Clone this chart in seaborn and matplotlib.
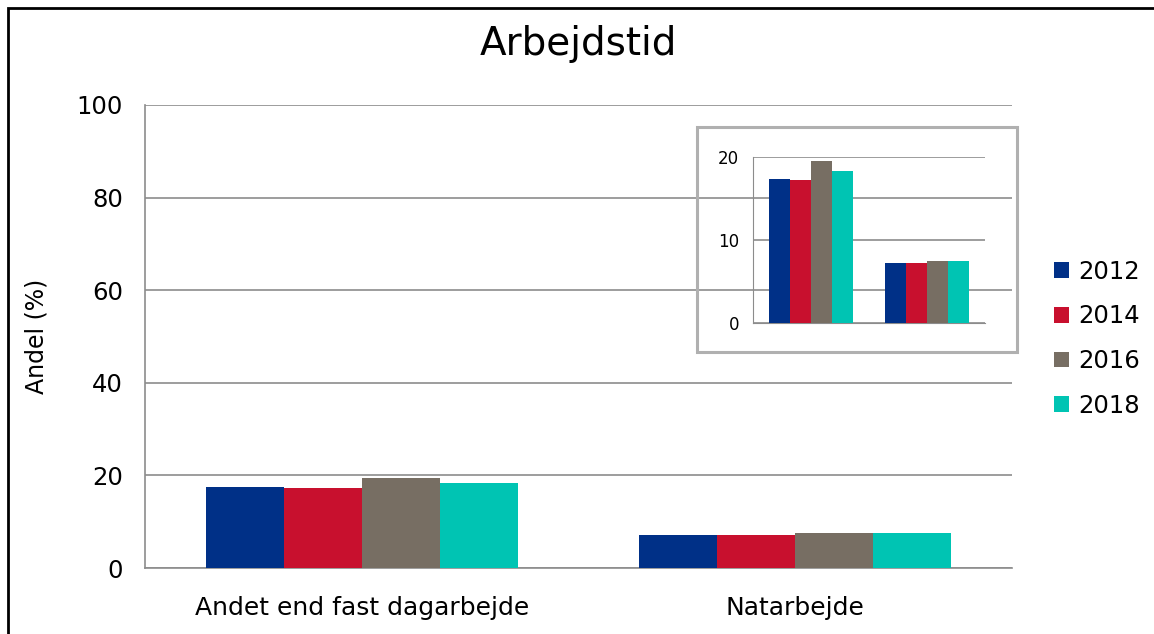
import pandas as pd
import numpy as np
import matplotlib
matplotlib.use("Agg")
import matplotlib.pyplot as plt
import seaborn as sns
from matplotlib.patches import Rectangle

# data
kategorier = ["Andet end fast dagarbejde", "Natarbejde"]
aar = ["2012", "2014", "2016", "2018"]
andel_2012 = [17.4, 7.2]
andel_2014 = [17.2, 7.2]
andel_2016 = [19.5, 7.5]
andel_2018 = [18.3, 7.5]
farver = ["#003087", "#C8102E", "#776E63", "#00C4B3"]

df = pd.DataFrame({
    "Kategori": kategorier * 4,
    "Aar": [a for a in aar for _ in kategorier],
    "Andel": andel_2012 + andel_2014 + andel_2016 + andel_2018,
})

sns.set_style("white")
plt.rcParams['font.family'] = ['DejaVu Sans']
plt.rcParams['text.color'] = 'black'
plt.rcParams['axes.labelcolor'] = 'black'
plt.rcParams['xtick.color'] = 'black'
plt.rcParams['ytick.color'] = 'black'

fig = plt.figure(figsize=(11.54, 6.34), dpi=100)
W, H = 1154, 634

# main axes
ax = fig.add_axes([145 / W, 1 - 568 / H, (1012 - 145) / W, (568 - 105) / H])
sns.barplot(data=df, x="Kategori", y="Andel", hue="Aar", palette=farver,
            width=0.72, gap=0, saturation=1, linewidth=0, ax=ax, zorder=3)
ax.set_ylim(0, 100)
ax.set_yticks(range(0, 101, 20))
ax.yaxis.grid(True, color="#8c8c8c", linewidth=1.2, zorder=0)
ax.set_axisbelow(True)
for s in ["top", "right"]:
    ax.spines[s].set_visible(False)
ax.spines["left"].set_color("#8c8c8c")
ax.spines["bottom"].set_color("#8c8c8c")
ax.spines["left"].set_linewidth(1.2)
ax.spines["bottom"].set_linewidth(1.2)
ax.tick_params(axis="y", length=7, color="#8c8c8c", labelcolor="black",
               labelsize=17.5, pad=9)
ax.tick_params(axis="x", length=0, labelcolor="black", labelsize=18, pad=20)
ax.set_xlabel("")
ax.set_ylabel("Andel (%)", fontsize=17, labelpad=20)
ax.set_title("Arbejdstid", fontsize=28, pad=36)

leg = ax.legend(loc="center left", bbox_to_anchor=(1.023, 0.495), frameon=False,
                fontsize=17.5, handlelength=0.62, handleheight=0.62,
                handletextpad=0.4, labelspacing=0.85)

# inset
frame = Rectangle((697 / W, 1 - 352 / H), (1017 - 697) / W, (352 - 127) / H,
                  transform=fig.transFigure, fill=False, edgecolor="#b0b0b0",
                  linewidth=2.2, zorder=5)
fig.patches.append(frame)

ins = fig.add_axes([753 / W, 1 - 323 / H, (985 - 753) / W, (323 - 157) / H])
ins.patch.set_alpha(0)
sns.barplot(data=df, x="Kategori", y="Andel", hue="Aar", palette=farver,
            width=0.72, gap=0, saturation=1, linewidth=0, ax=ins,
            legend=False, zorder=3)
ins.set_ylim(0, 20)
ins.set_yticks([0, 10, 20])
ins.yaxis.grid(True, color="#8c8c8c", linewidth=1.2, zorder=0)
ins.set_axisbelow(True)
for s in ["top", "right"]:
    ins.spines[s].set_visible(False)
ins.spines["left"].set_color("#8c8c8c")
ins.spines["bottom"].set_color("#8c8c8c")
ins.tick_params(axis="y", length=5, color="#8c8c8c", labelcolor="black",
                labelsize=12, pad=5)
ins.set_xticks([])
ins.set_xlabel("")
ins.set_ylabel("")

# outer border (only top and left visible)
border = Rectangle((8 / W, -0.1), 1.2, 1 - 8 / H + 0.1, transform=fig.transFigure,
                   fill=False, edgecolor="black", linewidth=2, zorder=10)
fig.patches.append(border)

fig.savefig("out.png", dpi=100)
